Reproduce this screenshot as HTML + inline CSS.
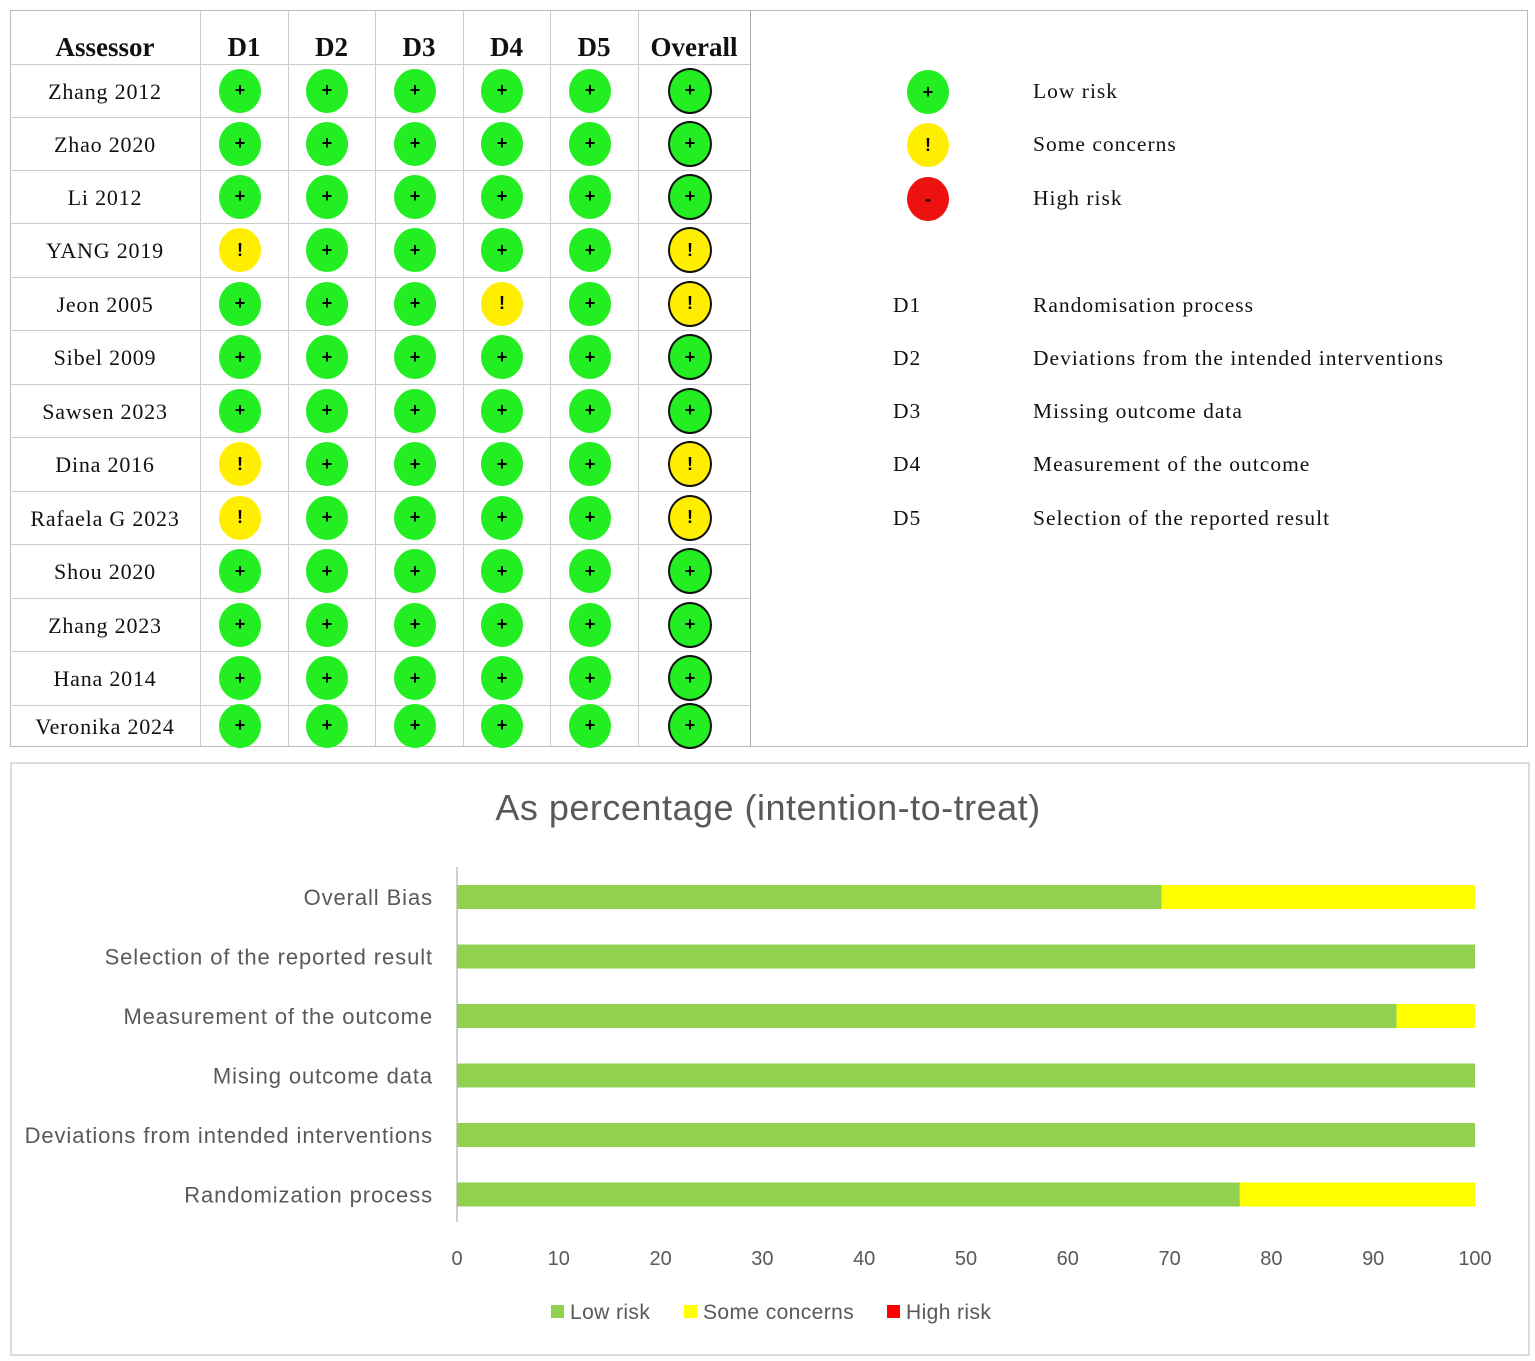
<!DOCTYPE html>
<html><head><meta charset="utf-8">
<style>
body{margin:0;width:1535px;height:1361px;background:#fff;position:relative;overflow:hidden;font-family:"Liberation Serif",serif}
.abs{position:absolute}
.vl{position:absolute;width:1px;background:#ccc}
.hl{position:absolute;height:1px;background:#ccc}
.cell{position:absolute;border-radius:50%;display:flex;align-items:center;justify-content:center;font-family:"Liberation Sans",sans-serif;font-weight:bold;font-size:18px;color:#000;box-sizing:border-box}
.name{position:absolute;width:190px;text-align:center;font-size:22px;color:#111;letter-spacing:0.8px}
.hdr{position:absolute;text-align:center;font-weight:bold;font-size:27px;color:#111}
.leg{position:absolute;font-size:21.5px;color:#111;letter-spacing:1px}
</style></head><body>
<div class="abs" style="left:10px;top:10px;width:1516px;height:735px;border:1px solid #bbb"></div>
<div class="abs" style="left:10px;top:762px;width:1516px;height:590px;border:2px solid #ddd"></div>
<div id="table"></div>
<div id="legend"></div>
<svg id="chart" class="abs" style="left:0;top:0" width="1535" height="1361"></svg>
<script>
const studies=["Zhang 2012","Zhao 2020","Li 2012","YANG 2019","Jeon 2005","Sibel 2009","Sawsen 2023","Dina 2016","Rafaela G 2023","Shou 2020","Zhang 2023","Hana 2014","Veronika 2024"];
const judgements=[
"LLLLLL","LLLLLL","LLLLLL","SLLLLS","LLLSLS","LLLLLL","LLLLLL","SLLLLS","SLLLLS","LLLLLL","LLLLLL","LLLLLL","LLLLLL"];
const headers=["Assessor","D1","D2","D3","D4","D5","Overall"];
const colEdges=[10,200,288,375,463,550,638,750];
const rowEdges=[10,64,117,170,223,277,330,384,437,491,544,598,651,705,746];
const colCenters=[105,240,327,415,502,590,690];
const t=document.getElementById('table');
function add(parent,html){parent.insertAdjacentHTML('beforeend',html);return parent.lastElementChild;}
colEdges.slice(1,-1).forEach(x=>add(t,`<div class="vl" style="left:${x}px;top:10px;height:736px"></div>`));
add(t,`<div class="vl" style="left:750px;top:10px;height:736px;background:#aaa"></div>`);
rowEdges.slice(1,-1).forEach(y=>add(t,`<div class="hl" style="left:10px;top:${y}px;width:740px"></div>`));
headers.forEach((h,i)=>{const e=add(t,`<div class="hdr" style="left:${colEdges[i]}px;width:${colEdges[i+1]-colEdges[i]}px;top:32px">${h}</div>`);

});
const col={L:'#22ee22',S:'#ffee00',H:'#ee1111'};
const sym={L:'+',S:'!',H:'-'};
studies.forEach((s,r)=>{
 const cy=(rowEdges[r+1]+rowEdges[r+2])/2;
 const n=add(t,`<div class="name" style="left:10px;top:${cy-12}px">${s}</div>`);
 
 
 [...judgements[r]].forEach((j,c)=>{
  const ov=c===5;const w=ov?44:42,h=ov?46:44;
  const e=add(t,`<div class="cell" style="left:${colCenters[c+1]-w/2}px;top:${cy-h/2}px;width:${w}px;height:${h}px;background:${col[j]};${ov?'border:2px solid #111':''}">${sym[j]}</div>`);
  
  
 });
});
const lg=document.getElementById('legend');
[["L","Low risk",91],["S","Some concerns",144],["H","High risk",198]].forEach(([k,l,y])=>{
 const d=add(lg,`<div class="cell" style="left:907px;top:${y-21}px;width:42px;height:44px;background:${col[k]}">${sym[k]}</div>`);
 
 
 const e=add(lg,`<div class="leg" style="left:1033px;top:${y-12}px">${l}</div>`);
 
 
});
[["D1","Randomisation process",305],["D2","Deviations from the intended interventions",358],["D3","Missing outcome data",411],["D4","Measurement of the outcome",464],["D5","Selection of the reported result",518]].forEach(([d,l,y])=>{
 const a=add(lg,`<div class="leg" style="left:893px;top:${y-12}px">${d}</div>`);
 
 
 const b=add(lg,`<div class="leg" style="left:1033px;top:${y-12}px">${l}</div>`);
 
 
});

// bar chart
const categories=["Overall Bias","Selection of the reported result","Measurement of the outcome","Mising outcome data","Deviations from intended interventions","Randomization process"];
const lowRisk=[69.2,100,92.3,100,100,76.9];
const someConcerns=[30.8,0,7.7,0,0,23.1];
const highRisk=[0,0,0,0,0,0];
const ticks=[0,10,20,30,40,50,60,70,80,90,100];
const svg=document.getElementById('chart');
const NS='http://www.w3.org/2000/svg';
const xS=v=>457+v*(1475-457)/100;
const yS=i=>897+i*59.5;
function el(tag,attrs,txt){const e=document.createElementNS(NS,tag);for(const k in attrs)e.setAttribute(k,attrs[k]);if(txt!==undefined)e.textContent=txt;svg.appendChild(e);return e;}
const sans='"Liberation Sans",sans-serif';
let e=el('text',{x:768,y:820,'text-anchor':'middle','font-family':sans,'font-size':36,'letter-spacing':0.5,fill:'#595959'},'As percentage (intention-to-treat)');


e=el('line',{x1:457,x2:457,y1:867,y2:1222,stroke:'#d0d0d0','stroke-width':2});


categories.forEach((c,i)=>{
 const y=yS(i);
 let a=el('text',{x:433,y:y+8,'text-anchor':'end','font-family':sans,'font-size':22,'letter-spacing':0.9,fill:'#595959'},c);
 
 
 let x=0;
 [[lowRisk,'#92d050','bar-low-risk'],[someConcerns,'#ffff00','bar-some-concerns'],[highRisk,'#ff0000','bar-high-risk']].forEach(([arr,f,n])=>{
  if(arr[i]>0){const r=el('rect',{x:xS(x),y:y-12,width:xS(x+arr[i])-xS(x),height:24,fill:f});
  
  }
  x+=arr[i];
 });
});
ticks.forEach(v=>{
 const a=el('text',{x:xS(v),y:1265,'text-anchor':'middle','font-family':sans,'font-size':20,fill:'#595959'},v);
 
 
});
[["#92d050","Low risk",551],["#ffff00","Some concerns",684],["#ff0000","High risk",887]].forEach(([f,l,x])=>{
 const r=el('rect',{x:x,y:1305,width:13,height:13,fill:f});
 
 
 const a=el('text',{x:x+19,y:1319,'font-family':sans,'font-size':21,'letter-spacing':0.4,fill:'#595959'},l);
 
 
});
</script>
</body></html>
